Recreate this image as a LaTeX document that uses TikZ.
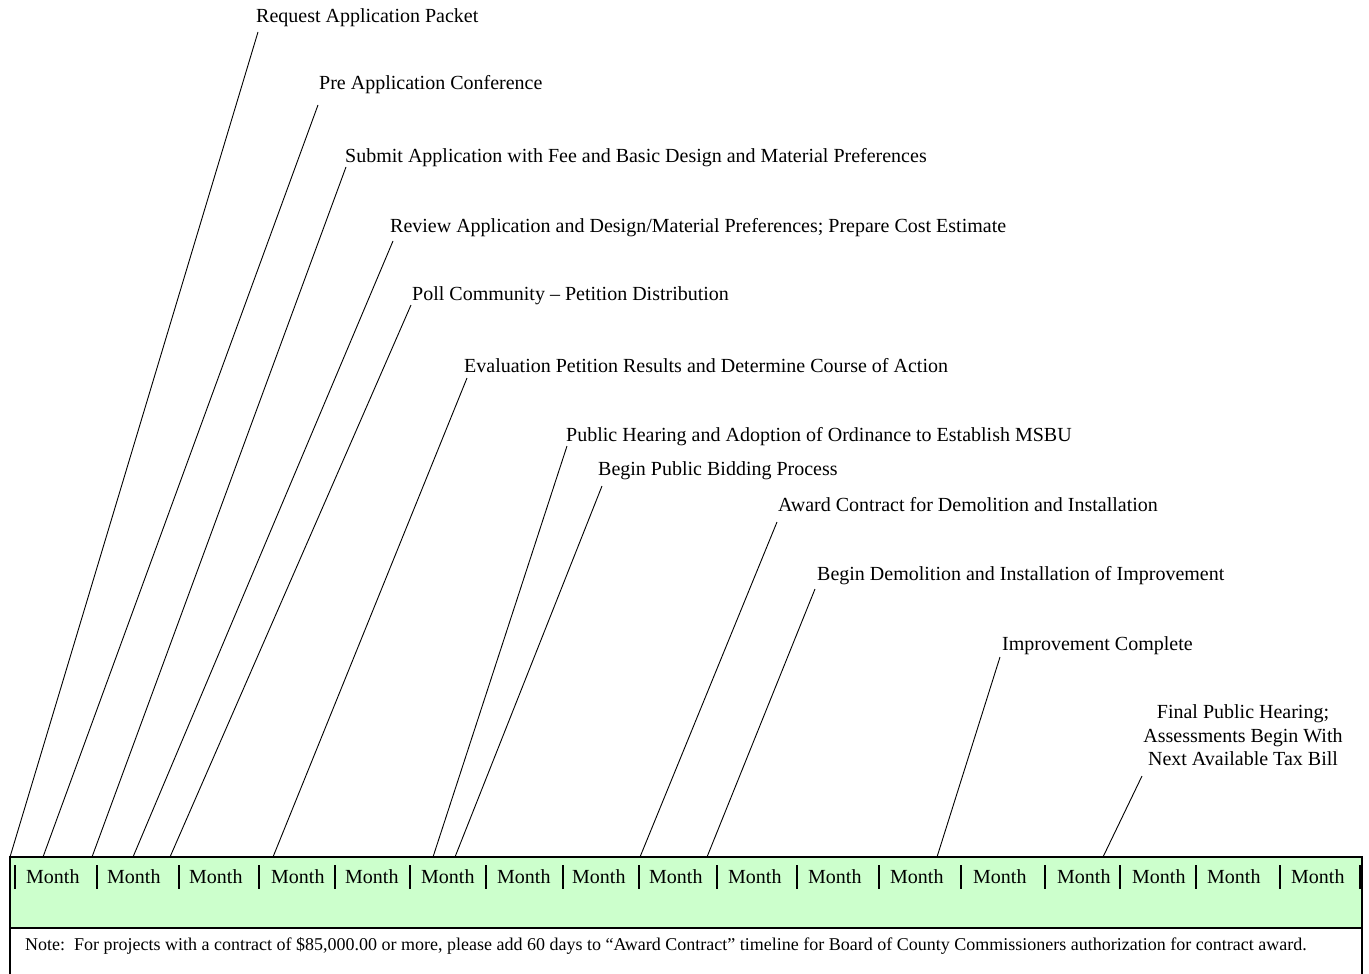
\documentclass[tikz,border=0pt]{standalone}
\usepackage{fontspec}
\setmainfont{Liberation Serif}
\definecolor{barfill}{HTML}{CCFFCC}
\begin{document}
\begin{tikzpicture}[x=1pt,y=-1pt,
  lbl/.style={anchor=base west,inner sep=0pt,font=\fontsize{20}{23.5}\selectfont},
  mon/.style={anchor=base west,inner sep=0pt,font=\fontsize{20}{22}\selectfont},
  lead/.style={draw=black,line width=0.9pt},
  sep/.style={draw=black,line width=1.4pt},
  frame/.style={draw=black,line width=1.3pt}]
\useasboundingbox (0,0) rectangle (1369,974);
% bar
\filldraw[frame,fill=barfill] (10,857) rectangle (1362,928);
\draw[frame] (10,928) -- (10,975);
\draw[frame] (1362,928) -- (1362,975);
% month separators and labels
\foreach \bx in {15,97,179,259,335,410,486,563,639,717,797,879,961,1045,1120,1196,1280}
  \draw[sep] (\bx,865) -- (\bx,889);
\draw[black,line width=3pt] (1360,865) -- (1360,889);
\foreach \mx [count=\i] in {26,107,189,271,345,421,497,572,649,728,808,890,973,1057,1132,1207,1291}
  \node[mon] (m\i) at (\mx,883) {Month};
% note
\node[anchor=base west,inner sep=0pt,font=\fontsize{18}{20}\selectfont] (note) at (25,950)
  {Note:\ \ For projects with a contract of \$85,000.00 or more, please add 60 days to “Award Contract” timeline for Board of County Commissioners authorization for contract award.};
% labels
\node[lbl] (l1) at (256,23) {Request Application Packet};
\node[lbl] (l2) at (319,90) {Pre Application Conference};
\node[lbl] (l3) at (345,162) {Submit Application with Fee and Basic Design and Material Preferences};
\node[lbl] (l4) at (390,232) {Review Application and Design/Material Preferences; Prepare Cost Estimate};
\node[lbl] (l5) at (412,300) {Poll Community – Petition Distribution};
\node[lbl] (l6) at (464,372) {Evaluation Petition Results and Determine Course of Action};
\node[lbl] (l7) at (566,441) {Public Hearing and Adoption of Ordinance to Establish MSBU};
\node[lbl] (l8) at (598,475) {Begin Public Bidding Process};
\node[lbl] (l9) at (778,511) {Award Contract for Demolition and Installation};
\node[lbl] (l10) at (817,580) {Begin Demolition and Installation of Improvement};
\node[lbl] (l11) at (1002,650) {Improvement Complete};
\node[anchor=south,inner sep=0pt,align=center,font=\fontsize{20}{23.5}\selectfont] (l12) at (1243,766)
  {Final Public Hearing;\\Assessments Begin With\\Next Available Tax Bill};
% anchor points on top of bar
\coordinate (b1) at (10,857);
\coordinate (b2) at (43,857);
\coordinate (b3) at (92,857);
\coordinate (b4) at (133,857);
\coordinate (b5) at (170,857);
\coordinate (b6) at (273,857);
\coordinate (b7) at (433,857);
\coordinate (b8) at (455,857);
\coordinate (b9) at (640,857);
\coordinate (b10) at (707,857);
\coordinate (b11) at (937,857);
\coordinate (b12) at (1103,857);
% leaders
\draw[lead] ([shift={(2,9)}]l1.base west) -- (b1);
\draw[lead] ([shift={(-1,15)}]l2.base west) -- (b2);
\draw[lead] ([shift={(1,5)}]l3.base west) -- (b3);
\draw[lead] ([shift={(3,9)}]l4.base west) -- (b4);
\draw[lead] ([shift={(-1,5)}]l5.base west) -- (b5);
\draw[lead] ([shift={(3,6)}]l6.base west) -- (b6);
\draw[lead] ([shift={(1,5)}]l7.base west) -- (b7);
\draw[lead] ([shift={(4,11)}]l8.base west) -- (b8);
\draw[lead] ([shift={(-1,11)}]l9.base west) -- (b9);
\draw[lead] ([shift={(-2,9)}]l10.base west) -- (b10);
\draw[lead] ([shift={(-2,7)}]l11.base west) -- (b11);
\draw[lead] ([shift={(-101,10)}]l12.south) -- (b12);
\end{tikzpicture}
\end{document}
